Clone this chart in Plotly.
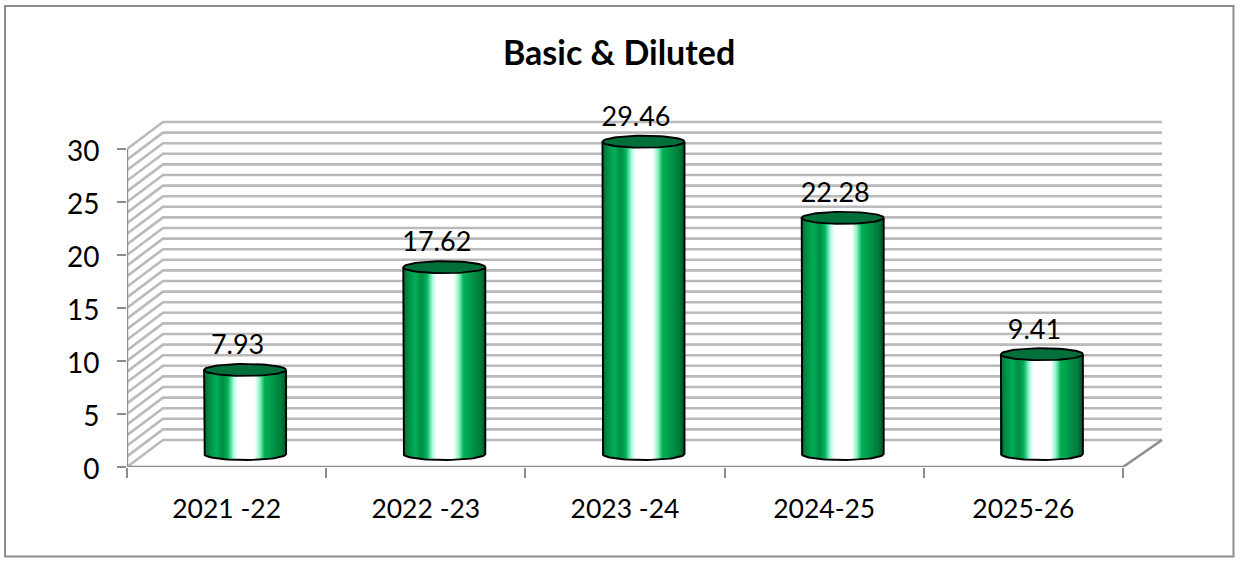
import numpy as np
import plotly.graph_objects as go

categories = ["2021 -22", "2022 -23", "2023 -24", "2024-25", "2025-26"]
values = [7.93, 17.62, 29.46, 22.28, 9.41]
value_labels = ["7.93", "17.62", "29.46", "22.28", "9.41"]
y_ticks = [0, 5, 10, 15, 20, 25, 30]
title_text = "Basic & Diluted"

W, H = 1242, 561
L, R, T, B = 127, 1170, 110, 467
px_x = 199.2
px_y = 10.6
FONT = "Lato"

depth_x = 36 / px_x
depth_y = 27 / px_y
wall_right = 4.5 + 39 / px_x
cyl_dx = 18.5 / px_x
cyl_base = 13 / px_y
cyl_rx = 41 / px_x
cyl_ry = 6 / px_y
x_pos = np.arange(len(categories), dtype=float)
xr = [-0.5, -0.5 + (R - L) / px_x]
yr = [0, (B - T) / px_y]

stops = [(0.0, (0, 100, 50)), (0.05, (0, 135, 65)), (0.15, (0, 175, 85)), (0.23, (0, 140, 68)),
         (0.29, (0, 180, 90)), (0.36, (170, 250, 225)), (0.41, (255, 255, 255)), (0.62, (255, 255, 255)),
         (0.68, (140, 245, 195)), (0.74, (0, 175, 85)), (0.84, (0, 150, 72)), (0.94, (0, 125, 60)), (1.0, (0, 90, 45))]


def strip_colour(u):
    ps = [s[0] for s in stops]
    return "rgb(%d,%d,%d)" % tuple(np.interp(u, ps, [s[1][k] for s in stops]) for k in range(3))


fig = go.Figure()

# back wall and side wall, kept below the bars
for v in range(0, 31):
    yb = v + depth_y
    fig.add_shape(type="path", xref="x", yref="y", layer="below",
                  path="M %f %f L %f %f L %f %f" % (xr[0], v, xr[0] + depth_x, yb, wall_right, yb),
                  line=dict(color="#bababa", width=2.6))

# axes frame
fig.add_trace(go.Scatter(
    x=[-0.5, -0.5, None, -0.5, 4.5, wall_right],
    y=[30, 0, None, 0, 0, depth_y],
    mode="lines", line=dict(color="#8c8c8c", width=2.4),
    hoverinfo="skip", showlegend=False, cliponaxis=False))

# cylinder body as shaded vertical strips
N = 82
sw = 2 * cyl_rx / N
for k in range(N):
    u = (k + 0.5) / N
    t = 2 * u - 1
    base = cyl_base - cyl_ry * np.sqrt(max(0.0, 1 - t * t))
    fig.add_trace(go.Bar(
        x=x_pos, y=[v + cyl_base - base for v in values], base=[base] * len(values),
        width=sw * 1.25, offset=cyl_dx - cyl_rx + k * sw,
        marker=dict(color=strip_colour(u), line=dict(width=0)),
        hoverinfo="skip", showlegend=False))

# cylinder outlines and caps
theta = np.linspace(0, 2 * np.pi, 73)
half = np.linspace(np.pi, 2 * np.pi, 37)
for xc, v in zip(x_pos, values):
    cx = xc + cyl_dx
    top = v + cyl_base
    ox = list(cx + cyl_rx * np.cos(half))
    oy = list(cyl_base + cyl_ry * np.sin(half))
    fig.add_trace(go.Scatter(
        x=[cx - cyl_rx] + ox + [cx + cyl_rx], y=[top] + oy + [top],
        mode="lines", line=dict(color="#000000", width=1.9),
        hoverinfo="skip", showlegend=False, cliponaxis=False))
    fig.add_trace(go.Scatter(
        x=cx + cyl_rx * np.cos(theta), y=top + cyl_ry * np.sin(theta),
        mode="lines", fill="toself", fillcolor="#006F3A",
        line=dict(color="#000000", width=1.9),
        hoverinfo="skip", showlegend=False, cliponaxis=False))

# data labels
fig.add_trace(go.Scatter(
    x=x_pos + cyl_dx - 7.5 / px_x, y=[v + cyl_base + 22.5 / px_y for v in values],
    mode="text", text=value_labels, textposition="middle center",
    textfont=dict(family=FONT, size=27, color="#000000"),
    hoverinfo="skip", showlegend=False, cliponaxis=False))

# outer chart border
fig.add_shape(type="rect", xref="paper", yref="paper",
              x0=(5 - L) / (R - L), x1=(1233.5 - L) / (R - L),
              y0=(B - 556.5) / (B - T), y1=(B - 6) / (B - T),
              line=dict(color="#8c8c8c", width=2), layer="below")

fig.add_annotation(text="<b>%s</b>" % title_text, xref="paper", yref="paper",
                   x=(619 - L) / (R - L), y=(B - 51.5) / (B - T),
                   xanchor="center", yanchor="middle", showarrow=False,
                   font=dict(family=FONT, size=34, color="#000000"))

fig.update_layout(
    width=W, height=H, autosize=False,
    margin=dict(l=L, r=W - R, t=T, b=H - B, pad=0),
    paper_bgcolor="white", plot_bgcolor="white",
    barmode="overlay", showlegend=False, bargap=0,
    xaxis=dict(range=xr, tickmode="array", tickvals=list(x_pos), ticktext=categories,
               ticks="", showgrid=False, zeroline=False, showline=False,
               ticklabelstandoff=23,
               tickfont=dict(family=FONT, size=26.5, color="#000000"),
               minor=dict(tickmode="array", tickvals=[-0.5, 0.5, 1.5, 2.5, 3.5, 4.5],
                          ticks="outside", ticklen=10, tickwidth=2, tickcolor="#8c8c8c", showgrid=False)),
    yaxis=dict(range=yr, tickmode="array", tickvals=y_ticks,
               ticks="outside", ticklen=9, tickwidth=2, tickcolor="#8c8c8c",
               showgrid=False, zeroline=False, showline=False, ticklabelstandoff=12,
               ticklabelshift=2,
               tickfont=dict(family=FONT, size=28, color="#000000")),
)

fig.write_html("out.html", config={"displayModeBar": False},
               post_script="document.body.style.margin='0';document.documentElement.style.overflow='hidden';")
